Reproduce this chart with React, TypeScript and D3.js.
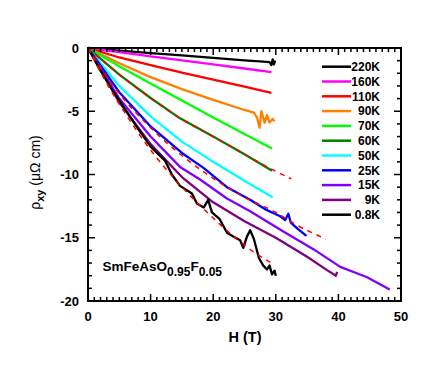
import React from "react";
import * as d3 from "d3";

type P = [number, number];

const temps = ["220K", "160K", "110K", "90K", "70K", "60K", "50K", "25K", "15K", "9K", "0.8K"];
const colors = ["#000000", "#ff00ff", "#ff0000", "#ff8000", "#00ff00", "#008000", "#00ffff", "#0000ff", "#8000ff", "#800080", "#000000"];

const s220: P[] = [[0, 0], [5, -0.2], [10, -0.4], [15, -0.58], [20, -0.78], [25, -0.98], [28, -1.08], [29, -1.12], [29.3, -1.35], [29.5, -0.9], [29.7, -1.3], [29.9, -1.0]];
const s160: P[] = [[0, 0], [5, -0.33], [10, -0.66], [15, -0.98], [20, -1.3], [25, -1.62], [29.3, -1.9]];
const s110: P[] = [[0, 0], [5, -0.75], [10, -1.35], [15, -1.95], [20, -2.5], [25, -3.05], [29.3, -3.55]];
const s90: P[] = [[0, 0], [5, -1.2], [10, -2.3], [15, -3.25], [20, -4.1], [25, -4.9], [26.5, -5.1], [27, -5.5], [27.4, -6.3], [27.7, -5.0], [28.2, -5.9], [28.6, -5.3], [29, -5.9], [29.5, -5.6], [29.8, -5.8]];
const s70: P[] = [[0, 0], [5, -1.45], [10, -2.8], [15, -4.15], [20, -5.5], [25, -6.8], [29.4, -7.95]];
const s60: P[] = [[0, 0], [5, -2.1], [10, -3.95], [14.7, -5.56], [20, -7.0], [25, -8.4], [29.4, -9.7]];
const s50: P[] = [[0, 0], [5, -3.0], [10, -5.4], [15, -7.4], [20, -9.0], [25, -10.5], [29.5, -11.8]];
const s25: P[] = [[0, 0], [5, -3.5], [10, -6.2], [15, -8.3], [18.5, -9.5], [22.2, -11.0], [25.9, -12.0], [28.5, -12.8], [30.7, -13.3], [31.5, -13.6], [32, -13.1], [32.4, -13.8], [33.5, -14.3], [34.9, -14.86]];
const s15: P[] = [[0, 0], [5, -4.0], [10, -7.0], [14.7, -9.4], [17.9, -10.4], [22.2, -11.9], [25.9, -12.9], [31.2, -14.5], [36, -15.9], [40.3, -17.3], [44.5, -18.1], [48.2, -19.1]];
const s9: P[] = [[0, 0], [5, -4.3], [10, -7.6], [15, -10.2], [20, -12.2], [25, -13.7], [30, -15.0], [35, -16.5], [38, -17.5], [39.6, -18.0], [39.8, -17.7]];
const s08: P[] = [[0, 0], [2, -1.8], [4, -3.4], [5.6, -4.6], [8, -6.4], [10, -7.8], [12.3, -8.9], [13.4, -10.0], [14.7, -10.9], [16.6, -11.5], [17.4, -12.3], [18.5, -12.6], [19.2, -12.0], [19.8, -13.0], [21, -13.5], [22.2, -14.6], [23.2, -14.9], [24.3, -15.2], [24.8, -15.8], [25.4, -14.9], [25.9, -14.4], [26.5, -15.1], [27.3, -16.6], [28, -17.2], [28.6, -17.5], [29, -17.2], [29.4, -17.9], [29.8, -17.6], [30, -18.0]];
const series = [s220, s160, s110, s90, s70, s60, s50, s25, s15, s9, s08];

const fit60: P[] = [[0, 0], [5, -2.1], [10, -3.95], [14.7, -5.56], [20, -7.0], [25, -8.4], [29.4, -9.6], [32.5, -10.35]];
const fit25: P[] = [[0, 0], [5, -3.6], [10, -6.3], [15, -8.5], [20, -10.3], [25, -11.8], [30, -13.0], [33, -13.9], [38, -15.1]];
const fit08: P[] = [[0, 0], [3, -2.8], [6, -5.2], [9, -7.4], [12, -9.3], [15, -11.0], [18, -12.5], [21, -13.9], [24, -15.2], [27, -16.3], [29.3, -17.0]];
const fits = [fit60, fit25, fit08];

const xTicks = [0, 10, 20, 30, 40, 50];
const yTicks = [0, -5, -10, -15, -20];

const W = 447, Hh = 368;
const L = 88, R = 401, T = 48, B = 301;
const FONT = "Arial, 'Liberation Sans', Helvetica, sans-serif";

export default function App() {
  const x = d3.scaleLinear().domain([0, 50]).range([L, R]);
  const y = d3.scaleLinear().domain([-20, 0]).range([B, T]);
  const line = d3.line<P>().x(d => x(d[0])).y(d => y(d[1]));
  const xMinor = d3.range(0, 51, 1);
  const yMinor = d3.range(-20, 1, 1);
  const legY = (i: number) => 66.7 + i * 14.8;
  return (
    <svg width={W} height={Hh} style={{ position: "absolute", left: 0, top: 0, background: "#fff" }} fontFamily={FONT}>
      <rect x={0} y={0} width={W} height={Hh} fill="#fff" />
      {series.map((s, i) => (
        <path key={i} d={line(s) || ""} fill="none" stroke={colors[i]} strokeWidth={2.3} strokeLinejoin="round" />
      ))}
      {fits.map((f, i) => (
        <path key={"f" + i} d={d3.line<P>().curve(d3.curveMonotoneX).x(d => x(d[0])).y(d => y(d[1]))(f) || ""} fill="none" stroke="#ff0000" strokeWidth={1.5} strokeDasharray="5,5" />
      ))}
      {/* frame */}
      <rect x={L} y={T} width={R - L} height={B - T} fill="none" stroke="#000" strokeWidth={2} />
      {xMinor.map(v => {
        const len = v % 10 === 0 ? 7 : 4;
        return (
          <g key={"xt" + v}>
            <line x1={x(v)} x2={x(v)} y1={B} y2={B - len} stroke="#000" strokeWidth={1.5} />
            <line x1={x(v)} x2={x(v)} y1={T} y2={T + len} stroke="#000" strokeWidth={1.5} />
          </g>
        );
      })}
      {yMinor.map(v => {
        const len = v % 5 === 0 ? 7 : 4;
        return (
          <g key={"yt" + v}>
            <line x1={L} x2={L + len} y1={y(v)} y2={y(v)} stroke="#000" strokeWidth={1.5} />
            <line x1={R} x2={R - len} y1={y(v)} y2={y(v)} stroke="#000" strokeWidth={1.5} />
          </g>
        );
      })}
      {xTicks.map(v => (
        <text key={"xl" + v} x={x(v)} y={321} textAnchor="middle" fontSize={13} fontWeight="bold">{v}</text>
      ))}
      {yTicks.map(v => (
        <text key={"yl" + v} x={79} y={y(v) + 4.5} textAnchor="end" fontSize={13} fontWeight="bold">{v}</text>
      ))}
      <text x={245} y={342} textAnchor="middle" fontSize={14.5} fontWeight="bold">H (T)</text>
      <text transform="translate(40,172.5) rotate(-90)" textAnchor="middle" fontSize={14}>
        ρ<tspan fontSize={11} fontWeight="bold" dy={4}>xy</tspan><tspan dy={-4}> (μΩ cm)</tspan>
      </text>
      {temps.map((t, i) => (
        <g key={"lg" + i}>
          <line x1={322} x2={351} y1={legY(i)} y2={legY(i)} stroke={colors[i]} strokeWidth={2.5} />
          <text x={380} y={legY(i) + 4.3} textAnchor="end" fontSize={12} fontWeight="bold">{t}</text>
        </g>
      ))}
      <text x={102.5} y={271} fontSize={13.5} fontWeight="bold">
        SmFeAsO<tspan dy={5} fontSize={12}>0.95</tspan><tspan dy={-5}>F</tspan><tspan dy={5} fontSize={12}>0.05</tspan>
      </text>
    </svg>
  );
}
